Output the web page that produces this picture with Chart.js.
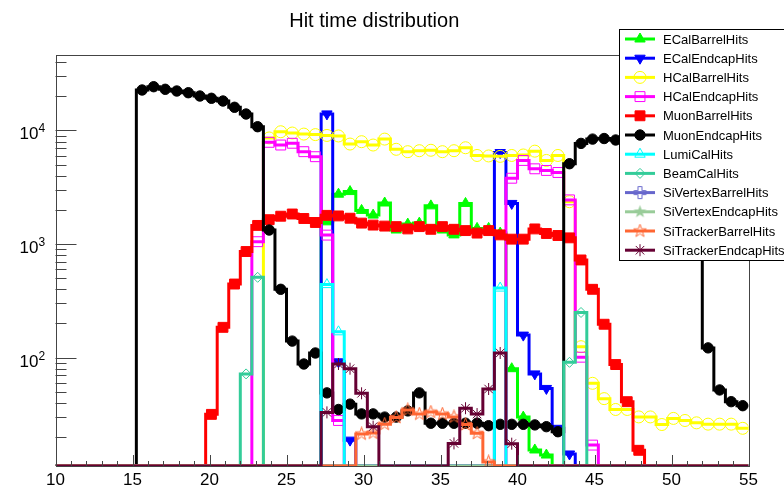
<!DOCTYPE html>
<html>
<head>
<meta charset="utf-8">
<title>Hit time distribution</title>
<script src="https://cdn.jsdelivr.net/npm/chart.js"></script>
<style>
  html, body { margin: 0; padding: 0; background: #fff; }
  #hits { display: block; }
</style>
</head>
<body>
<canvas id="hits" width="784" height="485"></canvas>
<script>
// 60 bins of 0.75 between 10 and 55
const X_MIN = 10, X_MAX = 55, BIN_W = 0.75;
const Y_MIN = 11.13, Y_MAX = 46200;

const seriesNames = [
  "ECalBarrelHits", "ECalEndcapHits", "HCalBarrelHits", "HCalEndcapHits",
  "MuonBarrelHits", "MuonEndcapHits", "LumiCalHits", "BeamCalHits",
  "SiVertexBarrelHits", "SiVertexEndcapHits", "SiTrackerBarrelHits", "SiTrackerEndcapHits"
];

// decade labels: base and exponent
const yTickValues = [100, 1000, 10000];
const yTickExponents = ["2", "3", "4"];

const ecalBarrel = [
  0, 0, 0, 0, 0, 0, 0, 0, 0, 0,
  0, 0, 0, 0, 0, 0, 0, 0, 0, 0,
  0, 0, 0, 1570, 2750, 2900, 1980, 1800, 2300, 1330,
  1500, 1530, 2170, 1330, 1205, 2280, 1375, 1375, 1250, 80,
  30, 15.4, 13.9, 0, 0, 0, 0, 0, 0, 0,
  0, 0, 0, 0, 0, 0, 0, 0, 0, 0
];
const ecalEndcap = [
  0, 0, 0, 0, 0, 0, 0, 0, 0, 0,
  0, 0, 0, 0, 0, 0, 0, 0, 0, 0,
  0, 0, 0, 14000, 92, 18.8, 0, 0, 0, 0,
  0, 0, 0, 0, 0, 0, 0, 0, 6400, 2280,
  158, 72, 53.6, 23.9, 14.2, 0, 0, 0, 0, 0,
  0, 0, 0, 0, 0, 0, 0, 0, 0, 0
];
const hcalBarrel = [
  0, 0, 0, 0, 0, 0, 0, 0, 0, 0,
  0, 0, 0, 0, 0, 0, 0, 0, 8600, 9750,
  9500, 9300, 9200, 9050, 8950, 7600, 7970, 7450, 8400, 6830,
  6510, 6640, 6700, 6510, 6640, 7050, 6030, 5970, 5920, 6030,
  6090, 6580, 5450, 6030, 2360, 125, 59.5, 43.6, 35, 35,
  30.1, 30.1, 25.8, 29.2, 28, 26.7, 26, 26, 26, 23.9
];
const hcalEndcap = [
  0, 0, 0, 0, 0, 0, 0, 0, 0, 0,
  0, 0, 0, 0, 0, 0, 0, 1050, 7870, 7450,
  7720, 6510, 5880, 1200, 28, 0, 0, 0, 0, 0,
  0, 0, 0, 0, 0, 0, 0, 0, 0, 3800,
  5450, 4600, 4450, 4270, 2450, 101, 17, 0, 0, 0,
  0, 0, 0, 0, 0, 0, 0, 0, 0, 0
];
const muonBarrel = [
  0, 0, 0, 0, 0, 0, 0, 0, 0, 0,
  0, 0, 0, 31.7, 185, 445, 860, 1460, 1640, 1760,
  1840, 1680, 1550, 1790, 1770, 1690, 1530, 1470, 1440, 1425,
  1360, 1425, 1350, 1425, 1350, 1315, 1250, 1315, 1205, 1105,
  1105, 1360, 1240, 1190, 1135, 725, 400, 197, 87, 41,
  15.3, 0, 0, 0, 0, 0, 0, 0, 0, 0
];
const muonEndcap = [
  0, 0, 0, 0, 0, 0, 0, 22730, 24300, 23050,
  22270, 21510, 20120, 19210, 18180, 16010, 13970, 10800, 1330, 400,
  140, 88, 110, 49, 35, 39, 32, 32, 30, 30,
  34, 49, 26.5, 26.5, 26.5, 26.5, 26.5, 25.2, 25.9, 25.9,
  25.9, 25.6, 24.7, 22.3, 5100, 7700, 8400, 8500, 8250, 8100,
  7900, 7600, 7200, 6700, 6000, 5000, 122, 52, 41, 37.8
];
const lumiCal = [
  0, 0, 0, 0, 0, 0, 0, 0, 0, 0,
  0, 0, 0, 0, 0, 0, 0, 0, 0, 0,
  0, 0, 0, 440, 169, 0, 0, 0, 0, 0,
  0, 0, 0, 0, 0, 0, 0, 0, 410, 0,
  0, 0, 0, 0, 0, 0, 0, 0, 0, 0,
  0, 0, 0, 0, 0, 0, 0, 0, 0, 0
];
const beamCal = [
  0, 0, 0, 0, 0, 0, 0, 0, 0, 0,
  0, 0, 0, 0, 0, 0, 72, 510, 0, 0,
  0, 0, 0, 0, 0, 0, 0, 0, 0, 0,
  0, 0, 0, 0, 0, 0, 0, 0, 0, 0,
  0, 0, 0, 0, 91, 250, 0, 0, 0, 0,
  0, 0, 0, 0, 0, 0, 0, 0, 0, 0
];
const siVertexBarrel = new Array(60).fill(0);
const siVertexEndcap = new Array(60).fill(0);
const siTrackerBarrel = [
  0, 0, 0, 0, 0, 0, 0, 0, 0, 0,
  0, 0, 0, 0, 0, 0, 0, 0, 0, 0,
  0, 0, 0, 0, 0, 0, 21.3, 21.7, 26, 29.8,
  34.7, 31.9, 33.2, 31.9, 30.1, 25.8, 21.6, 12.1, 0, 0,
  0, 0, 0, 0, 0, 0, 0, 0, 0, 0,
  0, 0, 0, 0, 0, 0, 0, 0, 0, 0
];
const siTrackerEndcap = [
  0, 0, 0, 0, 0, 0, 0, 0, 0, 0,
  0, 0, 0, 0, 0, 0, 0, 0, 0, 0,
  0, 0, 0, 33, 88, 80, 48.6, 24.7, 0, 0,
  0, 0, 0, 0, 17.6, 35.9, 31.9, 53, 110, 17.5,
  0, 0, 0, 0, 0, 0, 0, 0, 0, 0,
  0, 0, 0, 0, 0, 0, 0, 0, 0, 0
];

const seriesValues = [
  ecalBarrel, ecalEndcap, hcalBarrel, hcalEndcap, muonBarrel, muonEndcap,
  lumiCal, beamCal, siVertexBarrel, siVertexEndcap, siTrackerBarrel, siTrackerEndcap
];

const seriesColors = [
  "#00ff00", "#0000ff", "#ffff00", "#ff00ff", "#ff0000", "#000000",
  "#00ffff", "#33cc99", "#6666cc", "#99cc99", "#ff6633", "#660033"
];

const FONT = "'Liberation Sans', Arial, Helvetica, sans-serif";

// small canvases for marker shapes chart.js has no built-in for
function shapeMarker(kind, color, filled) {
  const c = document.createElement("canvas");
  c.width = 15;
  c.height = 15;
  const g = c.getContext("2d");
  g.translate(7.5, 7.5);
  g.beginPath();
  if (kind === "star") {
    for (let k = 0; k < 10; k++) {
      const r = k % 2 ? 2.7 : 6.8;
      const a = -Math.PI / 2 + k * Math.PI / 5;
      g.lineTo(r * Math.cos(a), r * Math.sin(a));
    }
  } else {
    const a = 2, b = 6;
    g.moveTo(-a, -b); g.lineTo(a, -b); g.lineTo(a, -a); g.lineTo(b, -a);
    g.lineTo(b, a); g.lineTo(a, a); g.lineTo(a, b); g.lineTo(-a, b);
    g.lineTo(-a, a); g.lineTo(-b, a); g.lineTo(-b, -a); g.lineTo(-a, -a);
  }
  g.closePath();
  if (filled) {
    g.fillStyle = color;
    g.fill();
  } else {
    g.strokeStyle = color;
    g.lineWidth = 1;
    g.stroke();
  }
  return c;
}

const markerStyles = [
  { style: "triangle", radius: 6, filled: true, rotation: 0 },
  { style: "triangle", radius: 6, filled: true, rotation: 180 },
  { style: "circle", radius: 6, filled: false, rotation: 0 },
  { style: "rect", radius: 7, filled: false, rotation: 0 },
  { style: "rect", radius: 7, filled: true, rotation: 0 },
  { style: "circle", radius: 5.2, filled: true, rotation: 0 },
  { style: "triangle", radius: 6, filled: false, rotation: 0 },
  { style: "rectRot", radius: 5, filled: false, rotation: 0 },
  { style: shapeMarker("cross", seriesColors[8], false), radius: 6, filled: false, rotation: 0 },
  { style: shapeMarker("star", seriesColors[9], true), radius: 6, filled: true, rotation: 0 },
  { style: shapeMarker("star", seriesColors[10], false), radius: 6, filled: false, rotation: 0 },
  { style: "star", radius: 6, filled: false, rotation: 0 }
];

const edges = Array.from({ length: 61 }, (_, i) => X_MIN + BIN_W * i);

// histogram outline: one point per lower bin edge, closing point at X_MAX
function stepPoints(vals) {
  const pts = vals.map((v, i) => ({ x: edges[i], y: v > 0 ? v : Y_MIN }));
  pts.push({ x: X_MAX, y: pts[pts.length - 1].y });
  return pts;
}

// markers sit at bin centres, empty bins get none
function markerPoints(vals) {
  return vals.map((v, i) => ({ x: edges[i] + BIN_W / 2, y: v > 0 ? v : null }));
}

const N = seriesNames.length;
const datasets = [];
seriesNames.forEach((name, i) => {
  const m = markerStyles[i];
  datasets.push({
    label: name,
    data: stepPoints(seriesValues[i]),
    borderColor: seriesColors[i],
    borderWidth: 3,
    stepped: "before",
    pointRadius: 0,
    pointHitRadius: 0,
    fill: false,
    order: 2 * (N - i) + 1
  });
  datasets.push({
    label: name + " markers",
    data: markerPoints(seriesValues[i]),
    showLine: false,
    pointStyle: m.style,
    pointRadius: m.radius,
    pointRotation: m.rotation,
    pointBorderWidth: 1,
    pointBorderColor: seriesColors[i],
    pointBackgroundColor: m.filled ? seriesColors[i] : "rgba(0,0,0,0)",
    order: 2 * (N - i)
  });
});

// ROOT-like frame with ticks pointing inwards, and 10^n labels
const frameTicks = {
  id: "frameTicks",
  afterDatasetsDraw(chart) {
    const { ctx, chartArea: a, scales } = chart;
    const x = scales.x, y = scales.y;
    ctx.save();
    ctx.strokeStyle = "#444";
    ctx.lineWidth = 1;
    ctx.beginPath();
    for (let v = X_MIN; v <= X_MAX; v++) {
      const px = Math.round(x.getPixelForValue(v)) + 0.5;
      const len = v % 5 === 0 ? 11 : 5;
      ctx.moveTo(px, a.bottom);
      ctx.lineTo(px, a.bottom - len);
    }
    for (let e = 1; e <= 4; e++) {
      for (let k = 1; k <= 9; k++) {
        const v = k * Math.pow(10, e);
        if (v < Y_MIN || v > Y_MAX) continue;
        const py = Math.round(y.getPixelForValue(v)) + 0.5;
        ctx.moveTo(a.left, py);
        ctx.lineTo(a.left + (k === 1 ? 21 : 11), py);
      }
    }
    ctx.stroke();
    ctx.strokeRect(Math.round(a.left) + 0.5, Math.round(a.top) + 0.5,
      Math.round(a.right - a.left), Math.round(a.bottom - a.top));

    ctx.fillStyle = "#000";
    ctx.textBaseline = "alphabetic";
    yTickValues.forEach((v, k) => {
      const py = y.getPixelForValue(v);
      ctx.font = "17px " + FONT;
      ctx.textAlign = "right";
      ctx.fillText("10", 38.5, py + 9);
      ctx.font = "12px " + FONT;
      ctx.textAlign = "left";
      ctx.fillText(yTickExponents[k], 38.5, py + 2);
    });
    ctx.restore();
  }
};

// boxed legend in the top right corner
const hitLegend = {
  id: "hitLegend",
  afterDraw(chart) {
    const ctx = chart.ctx;
    const drawPoint = Chart.helpers && Chart.helpers.drawPoint;
    ctx.save();
    ctx.fillStyle = "#fff";
    ctx.fillRect(619, 29, 170, 231);
    ctx.strokeStyle = "#000";
    ctx.lineWidth = 1;
    ctx.strokeRect(619.5, 29.5, 170, 231);
    ctx.font = "13px " + FONT;
    ctx.textBaseline = "middle";
    ctx.textAlign = "left";
    seriesNames.forEach((name, i) => {
      const yy = 39 + i * 19.2;
      const m = markerStyles[i];
      ctx.strokeStyle = seriesColors[i];
      ctx.lineWidth = 3;
      ctx.beginPath();
      ctx.moveTo(625, yy);
      ctx.lineTo(655, yy);
      ctx.stroke();
      if (drawPoint) {
        ctx.lineWidth = 1;
        ctx.fillStyle = m.filled ? seriesColors[i] : "rgba(0,0,0,0)";
        ctx.strokeStyle = seriesColors[i];
        drawPoint(ctx, { pointStyle: m.style, radius: m.radius, rotation: m.rotation, borderWidth: 1 }, 640, yy);
      }
      ctx.fillStyle = "#000";
      ctx.fillText(name, 663, yy + 1);
    });
    ctx.restore();
  }
};

new Chart(document.getElementById("hits"), {
  type: "line",
  data: { datasets: datasets },
  options: {
    responsive: false,
    animation: false,
    events: [],
    layout: { padding: { left: 0, right: 35.5, top: 0, bottom: 0 } },
    plugins: {
      legend: { display: false },
      tooltip: { enabled: false },
      title: {
        display: true,
        text: "Hit time distribution",
        color: "#000",
        font: { family: FONT, size: 20, weight: "normal" },
        padding: { top: 9, bottom: 22 }
      }
    },
    scales: {
      x: {
        type: "linear",
        min: X_MIN,
        max: X_MAX,
        grid: { display: false, drawTicks: false },
        border: { display: false },
        ticks: {
          stepSize: 5,
          autoSkip: false,
          maxRotation: 0,
          padding: 4,
          color: "#000",
          font: { family: FONT, size: 17 }
        },
        afterFit: s => { s.height = 19; }
      },
      y: {
        type: "logarithmic",
        min: Y_MIN,
        max: Y_MAX,
        grid: { display: false, drawTicks: false },
        border: { display: false },
        ticks: { display: false },
        afterFit: s => { s.width = 55.5; }
      }
    }
  },
  plugins: [frameTicks, hitLegend]
});
</script>
</body>
</html>
